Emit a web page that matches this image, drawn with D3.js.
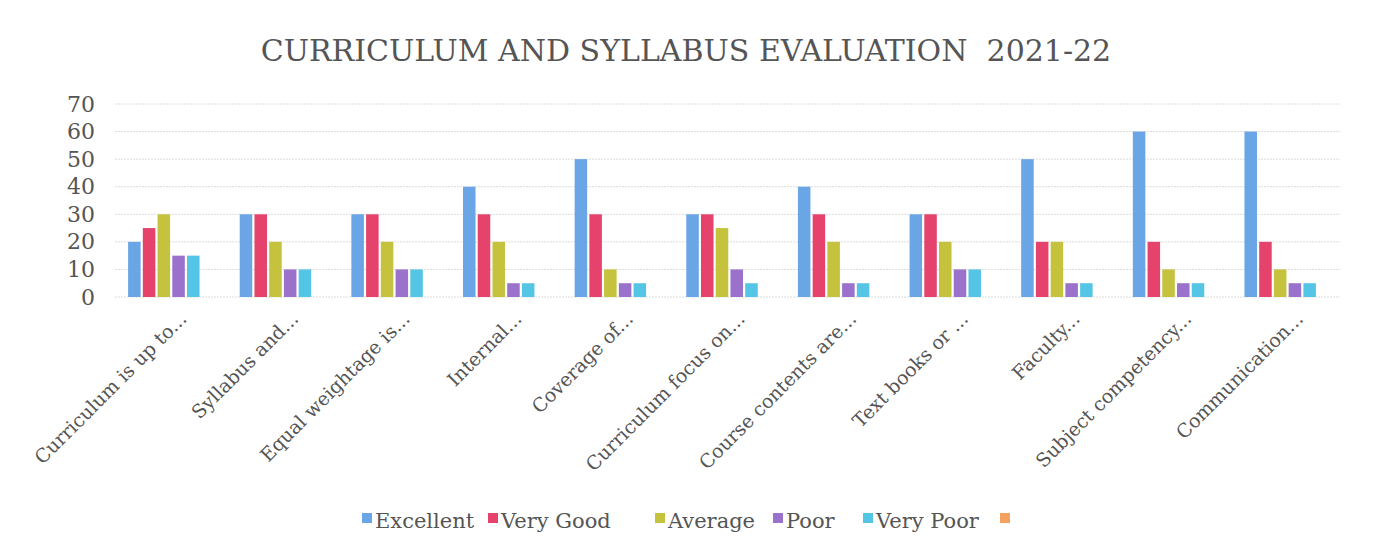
<!DOCTYPE html>
<html lang="en">
<head>
<meta charset="UTF-8">
<title>Curriculum and Syllabus Evaluation</title>
<script src="https://d3js.org/d3.v7.min.js"></script>
<style>
    body { margin: 0; background: #fff; }
    text { font-family: "DejaVu Serif", "Liberation Serif", serif; fill: #555; }
    .grid line { stroke: #dcdcdc; stroke-width: 1px; stroke-dasharray: 2,1; }
</style>
</head>
<body>
<svg width="1373" height="556"></svg>
<script>
    let categories = ["Curriculum is up to...", "Syllabus and...", "Equal weightage is...", "Internal...",
        "Coverage of...", "Curriculum focus on...", "Course contents are...", "Text books or ...",
        "Faculty...", "Subject competency...", "Communication..."];
    let seriesNames = ["Excellent", "Very Good", "Average", "Poor", "Very Poor"];
    let excellent = [20, 30, 30, 40, 50, 30, 40, 30, 50, 60, 60];
    let veryGood  = [25, 30, 30, 30, 30, 30, 30, 30, 20, 20, 20];
    let average   = [30, 20, 20, 20, 10, 25, 20, 20, 20, 10, 10];
    let poor      = [15, 10, 10, 5, 5, 10, 5, 10, 5, 5, 5];
    let veryPoor  = [15, 10, 10, 5, 5, 5, 5, 10, 5, 5, 5];
    let yTicks = [0, 10, 20, 30, 40, 50, 60, 70];
    let colors = ["#6aa5e6", "#e5436c", "#c5c33e", "#9a72cc", "#55c5e5"];
    let extraColor = "#f5a25d";

    let values = [excellent, veryGood, average, poor, veryPoor];
    let data = categories.map(function (c, i) {
        return {cat: c, vals: values.map(function (s, j) { return {name: seriesNames[j], v: s[i], k: j}; })};
    });

    let svg = d3.select('svg');

    svg.append('text')
        .attr('x', 686).attr('y', 61)
        .attr('text-anchor', 'middle')
        .style('font-size', '30px')
        .text('CURRICULUM AND SYLLABUS EVALUATION\u00a0\u00a02021-22');

    let x0 = d3.scaleBand().domain(categories).range([108, 1336]).paddingInner(0.36).paddingOuter(0.18);
    let x1 = d3.scaleBand().domain(seriesNames).range([0, x0.bandwidth()]).paddingInner(0.15);
    let y = d3.scaleLinear().domain([0, 70]).range([297, 104]);

    // gridlines
    svg.append('g').attr('class', 'grid')
        .selectAll('line').data(yTicks).join('line')
        .attr('x1', 115).attr('x2', 1340)
        .attr('y1', function (d) { return y(d); }).attr('y2', function (d) { return y(d); });

    // y axis labels
    let yAxis = svg.append('g')
        .attr('transform', 'translate(99,0)')
        .call(d3.axisLeft(y).tickValues(yTicks).tickSize(0).tickPadding(4));
    yAxis.select('.domain').remove();
    yAxis.selectAll('text').style('font-size', '22px').attr('fill', '#555');

    // bars
    let groups = svg.append('g').selectAll('g').data(data).join('g')
        .attr('transform', function (d) { return 'translate(' + x0(d.cat) + ',0)'; });
    groups.selectAll('rect').data(function (d) { return d.vals; }).join('rect')
        .attr('x', function (d) { return x1(d.name); })
        .attr('width', x1.bandwidth())
        .attr('y', function (d) { return y(d.v); })
        .attr('height', function (d) { return y(0) - y(d.v); })
        .attr('fill', function (d) { return colors[d.k]; });

    // category labels
    let xAxis = svg.append('g')
        .attr('transform', 'translate(0,300)')
        .call(d3.axisBottom(x0).tickSize(0).tickPadding(0));
    xAxis.select('.domain').remove();
    xAxis.selectAll('text')
        .style('font-size', '19px')
        .attr('fill', '#555')
        .attr('text-anchor', 'end')
        .attr('dy', 0)
        .attr('transform', 'translate(24,20) rotate(-45)');

    // legend
    let legendX = [362, 488, 655, 773, 863];
    let legend = svg.append('g');
    seriesNames.forEach(function (n, i) {
        legend.append('rect').attr('x', legendX[i]).attr('y', 513).attr('width', 10).attr('height', 10).attr('fill', colors[i]);
        legend.append('text').attr('x', legendX[i] + 13).attr('y', 528).style('font-size', '21px').text(n);
    });
    legend.append('rect').attr('x', 1000).attr('y', 513).attr('width', 10).attr('height', 10).attr('fill', extraColor);
</script>
</body>
</html>
